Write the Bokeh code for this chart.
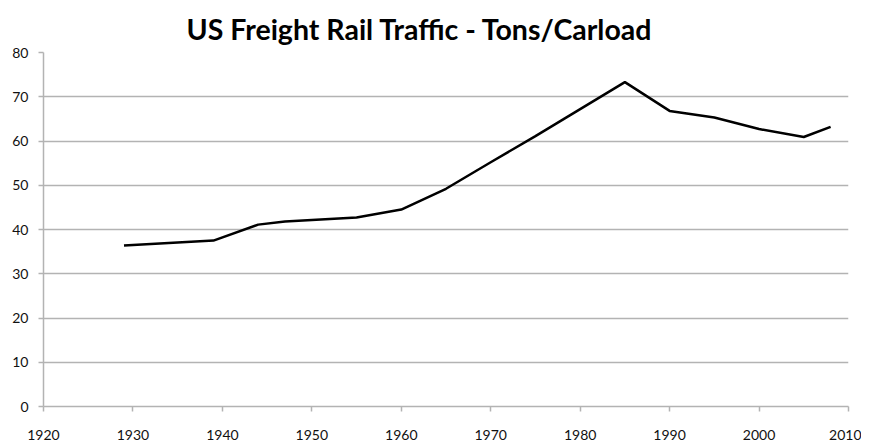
from bokeh.plotting import figure
from bokeh.models import Range1d, FixedTicker
from bokeh.embed import file_html
from bokeh.resources import INLINE

years = [1929, 1939, 1944, 1947, 1955, 1960, 1965, 1970, 1975, 1980, 1985, 1990, 1995, 2000, 2005, 2008]
tons_per_carload = [36.4, 37.5, 41.1, 41.8, 42.7, 44.5, 49.2, 55.2, 61.1, 67.2, 73.3, 66.8, 65.3, 62.7, 60.9, 63.2]
x_ticks = [1920, 1930, 1940, 1950, 1960, 1970, 1980, 1990, 2000, 2010]
y_ticks = [0, 10, 20, 30, 40, 50, 60, 70, 80]

p = figure(width=861, height=442, output_backend="svg", toolbar_location=None,
           x_range=Range1d(1920, 2010), y_range=Range1d(0, 80),
           min_border_left=43, min_border_right=13, min_border_top=52, min_border_bottom=31,
           title="US Freight Rail Traffic - Tons/Carload")

p.title.text_font = "Lato"
p.title.text_font_style = "bold"
p.title.text_font_size = "28.5px"
p.title.align = "left"
p.title.offset = 143
p.title.standoff = 14
p.title.text_color = "#000000"

p.line(years, tons_per_carload, line_color="black", line_width=2.5)

p.xaxis.ticker = FixedTicker(ticks=x_ticks)
p.yaxis.ticker = FixedTicker(ticks=y_ticks)
for ax in (p.xaxis, p.yaxis):
    ax.axis_line_color = "#b3b3b3"
    ax.axis_line_width = 1.5
    ax.major_tick_line_color = "#b3b3b3"
    ax.major_tick_line_width = 1.5
    ax.major_tick_out = 5
    ax.major_tick_in = 0
    ax.minor_tick_line_color = None
    ax.major_label_text_font = "Lato"
    ax.major_label_text_font_size = "14px"
    ax.major_label_text_color = "#111111"
p.xaxis.major_label_standoff = 18
p.yaxis.major_label_standoff = 10

p.xgrid.grid_line_color = None
p.ygrid.grid_line_color = "#b3b3b3"
p.ygrid.grid_line_width = 1.5
p.outline_line_color = None

open("out.html", "w").write(file_html(p, INLINE))
